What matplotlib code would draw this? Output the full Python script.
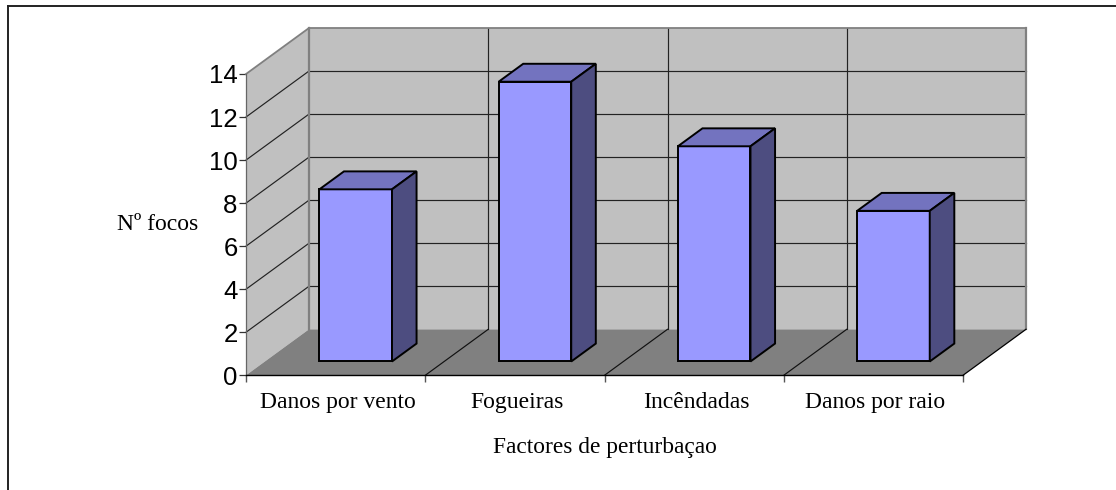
import matplotlib
matplotlib.use("Agg")
import matplotlib.pyplot as plt
from matplotlib.patches import Polygon
from matplotlib.lines import Line2D

categories = ["Danos por vento", "Fogueiras", "Incêndadas", "Danos por raio"]
values = [8, 13, 10, 7]
y_ticks = [0, 2, 4, 6, 8, 10, 12, 14]
x_title = "Factores de perturbaçao"
y_title = "Nº focos"

W, H = 1116, 490
L, R, B, T = 246.0, 963.0, 375.3, 74.0   # front plane, pixels
DX = 63 / ((R - L) / 4)                  # depth offset in category units
DY = 46 / ((B - T) / 14)                 # depth offset in value units
Z0, Z1 = 0.30, 0.69                      # bar depth range
BAR_L, BAR_W = 0.304, 0.405

WALL, FLOOR = "#C0C0C0", "#808080"
FRONT, TOP, SIDE = "#9999FF", "#7373BF", "#4D4D80"

fig = plt.figure(figsize=(W / 100, H / 100), dpi=100)
ax = fig.add_axes([L / W, 1 - B / H, (R - L) / W, (B - T) / H])
ax.set_xlim(0, 4)
ax.set_ylim(0, 14)
ax.patch.set_visible(False)


def P(x, y, z=0.0):
    return (x + z * DX, y + z * DY)


def poly(pts, fc, ec="none", lw=0, zo=1):
    ax.add_patch(Polygon(pts, closed=True, fc=fc, ec=ec, lw=lw, zorder=zo,
                         clip_on=False, joinstyle="miter"))


def line(a, b, c="black", lw=0.9, zo=2):
    ax.plot([a[0], b[0]], [a[1], b[1]], color=c, lw=lw, zorder=zo,
            clip_on=False, solid_capstyle="projecting")


# walls and floor
poly([P(0, 0, 1), P(4, 0, 1), P(4, 14, 1), P(0, 14, 1)], WALL)
poly([P(0, 0, 0), P(0, 0, 1), P(0, 14, 1), P(0, 14, 0)], WALL)
poly([P(0, 0, 0), P(4, 0, 0), P(4, 0, 1), P(0, 0, 1)], FLOOR)

# gridlines
for v in y_ticks[1:-1]:
    line(P(0, v, 0), P(0, v, 1), "#222222", 0.85)
    line(P(0, v, 1), P(4, v, 1), "#222222", 0.85)
for i in range(1, 4):
    line(P(i, 0, 1), P(i, 14, 1), "#222222", 0.85)
    line(P(i, 0, 0), P(i, 0, 1), "#111111", 0.85)

# wall edges
line(P(0, 14, 0), P(0, 14, 1), FLOOR, 1.3, 3)
line(P(0, 14, 1), P(4, 14, 1), FLOOR, 1.3, 3)
line(P(0, 0, 1), P(0, 14, 1), FLOOR, 1.6, 3)
line(P(4, 0, 1), P(4, 14, 1), FLOOR, 1.6, 3)
line(P(0, 0, 0), P(0, 14, 0), "#666666", 0.9, 3)
line(P(4, 0, 0), P(4, 0, 1), "black", 0.9, 3)

# bars
for i, v in enumerate(values):
    x0, x1 = i + BAR_L, i + BAR_L + BAR_W
    poly([P(x0, 0, Z0), P(x1, 0, Z0), P(x1, v, Z0), P(x0, v, Z0)], FRONT, "black", 1.4, 5)
    poly([P(x0, v, Z0), P(x1, v, Z0), P(x1, v, Z1), P(x0, v, Z1)], TOP, "black", 1.4, 5)
    poly([P(x1, 0, Z0), P(x1, 0, Z1), P(x1, v, Z1), P(x1, v, Z0)], SIDE, "black", 1.4, 5)

# axes
for s in ("top", "right", "left"):
    ax.spines[s].set_visible(False)
ax.spines["bottom"].set_linewidth(1.0)
ax.spines["bottom"].set_zorder(4)
ax.set_yticks(y_ticks)
ax.set_yticklabels([str(v) for v in y_ticks], fontfamily="Liberation Sans", fontsize=18.5)
ax.tick_params(axis="y", length=5, width=0.9, pad=1, color="#333333")
ax.set_xticks(range(5))
ax.set_xticklabels([])
ax.tick_params(axis="x", which="major", length=5, width=1.0, color="#555555")
ax.set_xticks([i + 0.51 for i in range(4)], minor=True)
ax.set_xticklabels(categories, minor=True, fontfamily="Liberation Serif", fontsize=17)
ax.tick_params(axis="x", which="minor", length=0, pad=12)

ax.set_xlabel(x_title, fontfamily="Liberation Serif", fontsize=16.8, va="center")
ax.xaxis.set_label_coords((605 - L) / (R - L), -(447 - B) / (B - T), transform=ax.transAxes)
ax.set_ylabel(y_title, fontfamily="Liberation Serif", fontsize=17, rotation=0,
              ha="center", va="center")
ax.yaxis.set_label_coords((157.5 - L) / (R - L), (B - 225) / (B - T))

# outer border: only the top and left edges fall inside the picture
for xs, ys in (((7.5, W), (5.8, 5.8)), ((7.5, 7.5), (5.8, H))):
    fig.add_artist(Line2D([x / W for x in xs], [1 - y / H for y in ys],
                          color="#222222", lw=1.4, transform=fig.transFigure))

fig.savefig("out.png", dpi=100)
